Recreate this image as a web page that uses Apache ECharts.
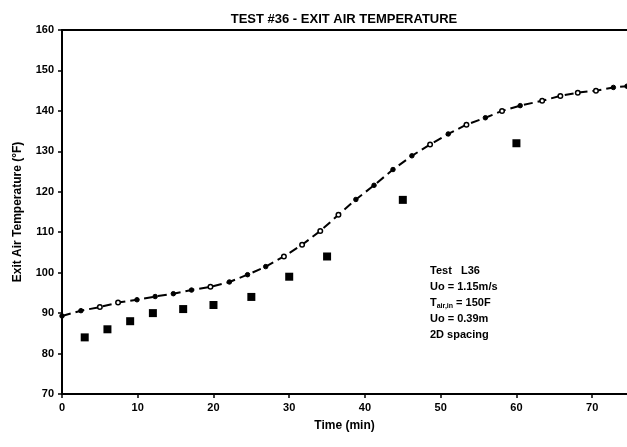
<!DOCTYPE html>
<html>
<head>
<meta charset="utf-8">
<script src="https://cdn.jsdelivr.net/npm/echarts@6/dist/echarts.min.js"></script>
<style>
  html, body { margin: 0; padding: 0; background: #fff; }
  #chart { width: 627px; height: 447px; }
</style>
</head>
<body>
<div id="chart"></div>
<script>
// measured exit air temperature (filled squares)
const measTime = [3, 6, 9, 12, 16, 20, 25, 30, 35, 45, 60];
const measTemp = [84, 86, 88, 90, 91, 92, 94, 99, 104, 118, 132];

// model curve (dashed line with markers)
const modelTime = [0, 2.5, 5, 7.4, 9.9, 12.3, 14.7, 17.1, 19.6, 22.1, 24.5, 26.9, 29.3, 31.7,
  34.1, 36.5, 38.8, 41.2, 43.7, 46.2, 48.6, 51, 53.4, 55.9, 58.1, 60.5, 63.4, 65.8, 68.1, 70.5, 72.8, 74.6];
const modelTemp = [89.3, 90.6, 91.5, 92.6, 93.3, 94.1, 94.8, 95.7, 96.5, 97.7, 99.5, 101.5, 104.0, 106.9,
  110.3, 114.3, 118.1, 121.6, 125.5, 128.9, 131.7, 134.3, 136.6, 138.3, 140.0, 141.3, 142.5, 143.7, 144.5, 145.0, 145.8, 146.1];
// which model points have an open marker
const openIdx = [2, 3, 8, 12, 13, 14, 15, 20, 22, 24, 26, 27, 28, 29];

const xTicks = [0, 10, 20, 30, 40, 50, 60, 70];
const yTicks = [70, 80, 90, 100, 110, 120, 130, 140, 150, 160];

const font = "Liberation Sans, Arial, sans-serif";
let myChart = echarts.init(document.getElementById("chart"));

let axisLine = { lineStyle: { color: "#000", width: 2 } };

myChart.setOption({
  animation: false,
  title: {
    text: "TEST #36 - EXIT AIR TEMPERATURE",
    left: 339,
    textAlign: "center",
    top: 8,
    textStyle: { fontFamily: font, fontSize: 13, fontWeight: "bold", color: "#000" }
  },
  grid: { left: 62, right: 0, top: 30, bottom: 53 },
  xAxis: [
    {
      type: "value",
      min: 0,
      max: 74.6,
      interval: 10,
      name: "Time (min)",
      nameLocation: "middle",
      nameGap: 26,
      nameTextStyle: { fontFamily: font, fontSize: 12, fontWeight: "bold", color: "#000" },
      axisLine: axisLine,
      axisTick: { show: true, length: 4, lineStyle: { color: "#000", width: 1.5 } },
      axisLabel: {
        color: "#000",
        fontFamily: font,
        fontSize: 11,
        fontWeight: "bold",
        margin: 8,
        showMaxLabel: false,
        formatter: v => (xTicks.indexOf(v) >= 0 ? v : "")
      },
      splitLine: { show: false }
    },
    {
      type: "value",
      position: "top",
      min: 0,
      max: 74.6,
      axisLine: axisLine,
      axisTick: { show: false },
      axisLabel: { show: false },
      splitLine: { show: false }
    }
  ],
  yAxis: {
    type: "value",
    min: 70,
    max: 160,
    interval: 10,
    name: "Exit Air Temperature (°F)",
    nameLocation: "middle",
    nameGap: 38,
    nameTextStyle: { fontFamily: font, fontSize: 12, fontWeight: "bold", color: "#000" },
    axisLine: { show: true, lineStyle: { color: "#000", width: 2 } },
    axisTick: { show: true, length: 4, lineStyle: { color: "#000", width: 1.5 } },
    axisLabel: {
      color: "#000",
      fontFamily: font,
      fontSize: 11,
      fontWeight: "bold",
      margin: 8,
      formatter: v => (yTicks.indexOf(v) >= 0 ? v : "")
    },
    splitLine: { show: false }
  },
  series: [
    {
      type: "line",
      data: modelTime.map((t, i) => ({
        value: [t, modelTemp[i]],
        itemStyle: openIdx.indexOf(i) >= 0
          ? { color: "#fff", borderColor: "#000", borderWidth: 1.5 }
          : { color: "#000", borderColor: "#000", borderWidth: 1 }
      })),
      symbol: "circle",
      symbolSize: 4.5,
      showAllSymbol: true,
      lineStyle: { color: "#000", width: 2, type: [9, 5] },
      z: 3
    },
    {
      type: "scatter",
      data: measTime.map((t, i) => [t, measTemp[i]]),
      symbol: "rect",
      symbolSize: 8,
      itemStyle: { color: "#000", opacity: 1 },
      z: 4
    }
  ],
  graphic: [
    {
      type: "text",
      left: 430,
      top: 263,
      style: {
        text: "Test   L36\nUo = 1.15m/s\n{t|T}{s|air,in}{t| = 150F}\nUo = 0.39m\n2D spacing",
        fontFamily: font,
        fontSize: 11,
        fontWeight: "bold",
        lineHeight: 16,
        fill: "#000",
        rich: {
          t: { fontFamily: font, fontSize: 11, fontWeight: "bold", fill: "#000", lineHeight: 16 },
          s: { fontFamily: font, fontSize: 7, fontWeight: "bold", fill: "#000", padding: [6, 0, 0, 0], lineHeight: 16 }
        }
      }
    }
  ]
});
</script>
</body>
</html>
